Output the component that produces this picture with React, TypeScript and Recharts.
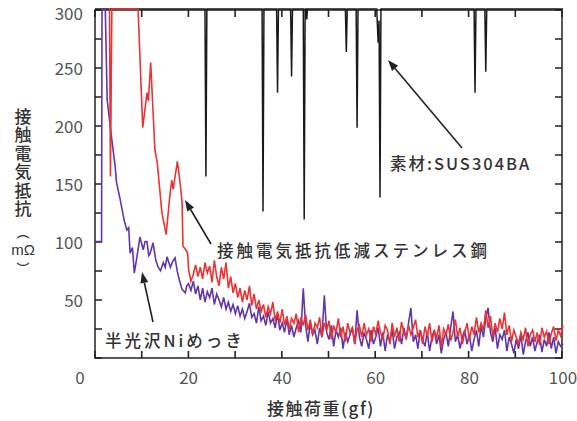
import { LineChart, Line, XAxis, YAxis } from "recharts";

const FONT = '"Noto Sans CJK JP", "Noto Sans", sans-serif';

// 素材 SUS304BA: saturated at 300 except for short dips
const susLoad = [0, 23.5, 23.7, 23.9, 35.7, 35.9, 36.1, 38.8, 39.0, 39.2, 41.8, 42.0, 42.2, 44.5, 44.7, 44.9, 45.1, 45.25, 45.4, 53.5, 53.7, 53.9, 55.8, 56.0, 56.2, 60.2, 60.5, 60.7, 60.9, 61.1, 81.0, 81.2, 81.4, 83.3, 83.5, 83.7, 100];
const susValue = [300, 300, 156, 300, 300, 126, 300, 300, 228, 300, 300, 242, 300, 300, 119, 300, 300, 291, 300, 300, 263, 300, 300, 198, 300, 300, 271, 290, 138, 300, 300, 228, 300, 300, 246, 300, 300];

// 接触電気抵抗低減ステンレス鋼, low-load part
const redEarlyLoad = [3.0, 3.1, 3.3, 3.6, 9.2, 10.2, 11.1, 11.4, 11.9, 12.8, 13.3, 14.3, 15.2, 16.0, 16.4, 16.7, 17.6, 18.2, 18.6, 18.8, 19.4, 19.8];
const redEarlyValue = [300, 300, 156, 300, 300, 198, 228, 221, 254, 179, 168, 125, 106, 140, 153, 145, 169, 150, 134, 96, 93, 90];

// 半光沢Niめっき, low-load part
const niEarlyLoad = [0, 1.4, 1.5, 2.2, 2.6, 3.4, 4.3, 4.6, 5.4, 6.2, 6.8, 7.2, 7.5, 8.0, 8.4, 9.0, 9.6, 10.3, 10.7, 11.1, 11.5, 11.8, 12.4, 13.0, 13.5, 14.0, 14.6, 15.0, 15.4, 16.1, 16.6, 17.1, 17.6, 18.1, 18.6, 19.3, 19.6];
const niEarlyValue = [100, 100, 300, 300, 222, 194, 165, 151, 136, 119, 110, 112, 90, 95, 73, 88, 104, 93, 100, 100, 88, 90, 99, 84, 78, 75, 82, 78, 87, 78, 83, 86, 74, 66, 59, 56, 62];

// 20–100 gf, every 0.5 gf
const sweepLoad = Array.from({ length: 161 }, (_, i) => 20 + i * 0.5);
const redSweep = [
  76, 66, 72, 80, 70, 78, 68, 82, 73, 79,
  65, 84, 70, 62, 78, 68, 82, 60, 70, 56,
  64, 52, 60, 48, 58, 50, 62, 45, 55, 42,
  50, 40, 46, 35, 44, 38, 48, 32, 40, 30,
  42, 28, 36, 25, 34, 30, 38, 22, 35, 28,
  37, 24, 33, 20, 30, 26, 35, 18, 30, 24,
  32, 16, 28, 22, 34, 18, 27, 14, 30, 22,
  26, 12, 24, 28, 18, 30, 20, 25, 14, 27,
  20, 32, 22, 16, 28, 24, 12, 30, 18, 26,
  14, 31, 22, 17, 28, 20, 26, 33, 18, 24,
  12, 27, 19, 30, 14, 23, 18, 28, 10, 25,
  20, 29, 15, 22, 33, 18, 26, 12, 22, 30,
  16, 27, 20, 35, 22, 30, 24, 41, 26, 36,
  18, 30, 22, 34, 25, 39, 20, 28, 14, 24,
  18, 12, 22, 16, 26, 10, 20, 24, 14, 22,
  11, 26, 18, 23, 12, 21, 27, 15, 24, 19,
  28,
];
const niSweep = [
  64, 58, 66, 55, 62, 50, 60, 48, 57, 52,
  60, 46, 55, 50, 44, 52, 42, 48, 40, 46,
  38, 45, 36, 42, 34, 40, 47, 35, 38, 30,
  44, 32, 36, 28, 40, 30, 34, 26, 38, 24,
  30, 22, 34, 20, 28, 18, 26, 32, 22, 60,
  28, 14, 30, 20, 24, 12, 26, 18, 54, 22,
  16, 28, 10, 24, 18, 26, 8, 22, 14, 20,
  26, 12, 41, 18, 10, 22, 16, 8, 24, 12,
  18, 26, 10, 22, 6, 20, 14, 24, 8, 18,
  22, 12, 26, 16, 30, 43, 14, 20, 8, 24,
  16, 10, 22, 6, 18, 24, 12, 20, 4, 16,
  22, 10, 26, 40, 14, 20, 8, 18, 24, 12,
  20, 6, 16, 24, 10, 28, 18, 34, 43, 22,
  14, 26, 8, 20, 16, 24, 6, 18, 12, 4,
  16, 8, 20, 3, 14, 22, 10, 18, 6, 14,
  20, 5, 16, 10, 22, 8, 18, 4, 14, 10,
  12,
];

const xTicks = [0, 10, 20, 30, 40, 50, 60, 70, 80, 90, 100];
const yTicks = [0, 25, 50, 75, 100, 125, 150, 175, 200, 225, 250, 275, 300];

const toPoints = (xs: number[], ys: number[]) => xs.map((x, i) => ({ load: x, r: ys[i] }));

const susData = toPoints(susLoad, susValue);
const redData = [...toPoints(redEarlyLoad, redEarlyValue), ...toPoints(sweepLoad, redSweep)];
const niData = [...toPoints(niEarlyLoad, niEarlyValue), ...toPoints(sweepLoad, niSweep)];

// plot box (matches the chart margins below)
const W = 577;
const H = 421;
const M = { top: 9, right: 14, bottom: 62, left: 94 };
const BOX = { left: M.left + 1, right: W - M.right - 1, top: M.top + 1, bottom: H - M.bottom - 1 };
const px = (v: number) => BOX.left + (v / 100) * (BOX.right - BOX.left);
const py = (v: number) => BOX.bottom - (v / 300) * (BOX.bottom - BOX.top);

const AXIS = "#222";
const LABEL = "#555";

function BottomLabel({ x, y, payload }: any) {
  const v = payload.value;
  if (v % 20 !== 0) return <g />;
  return (
    <text x={v === 0 ? x - 15 : x} y={y + 18} textAnchor="middle" dominantBaseline="central"
      fill={LABEL} fontSize={17} fontFamily={FONT}>{v}</text>
  );
}

function LeftLabel({ x, y, payload }: any) {
  const v = payload.value;
  if (v % 50 !== 0 || v === 0) return <g />;
  return (
    <text x={x - 12} y={v === 300 ? y + 3 : y} textAnchor="end" dominantBaseline="central"
      fill={LABEL} fontSize={17} fontFamily={FONT}>{v}</text>
  );
}

function Arrow({ x1, y1, x2, y2 }: { x1: number; y1: number; x2: number; y2: number }) {
  const a = Math.atan2(y2 - y1, x2 - x1);
  const len = 11;
  const w = 4;
  const bx = x2 - len * Math.cos(a);
  const by = y2 - len * Math.sin(a);
  const ox = -Math.sin(a) * w;
  const oy = Math.cos(a) * w;
  return (
    <g>
      <line x1={x1} y1={y1} x2={bx} y2={by} stroke="#222" strokeWidth={1.6} />
      <polygon points={`${x2},${y2} ${bx + ox},${by + oy} ${bx - ox},${by - oy}`} fill="#222" />
    </g>
  );
}

const layer = { position: "absolute", left: 0, top: 0, pointerEvents: "none" } as const;

// inward tick marks on all four sides, as one path
const tickPath = [
  ...xTicks.map((v) => `M${px(v)},${BOX.bottom}V${BOX.bottom - 7}M${px(v)},${BOX.top}V${BOX.top + 7}`),
  ...yTicks.map((v) => `M${BOX.left},${py(v)}H${BOX.left + 7}M${BOX.right},${py(v)}H${BOX.right - 7}`),
].join("");

// frame + ticks under the series, so saturated traces run over them
function Frame() {
  return (
    <svg width={W} height={H} style={layer}>
      <rect x={BOX.left} y={BOX.top} width={BOX.right - BOX.left} height={BOX.bottom - BOX.top}
        fill="none" stroke={AXIS} strokeWidth={1.5} />
      <path d={tickPath} fill="none" stroke={AXIS} strokeWidth={1.6} />
    </svg>
  );
}

function Overlay() {
  const txt = { fill: "#333", fontFamily: FONT, fontSize: 16.5, fontWeight: 500 } as const;
  return (
    <svg width={W} height={H} style={layer}>
      <Arrow x1={462} y1={148} x2={388} y2={60} />
      <Arrow x1={211} y1={244} x2={185} y2={200} />
      <Arrow x1={153} y1={322} x2={142} y2={272} />
      <text x={390} y={163} dominantBaseline="central" letterSpacing={2} {...txt}>素材:SUS304BA</text>
      <text x={217} y={250} dominantBaseline="central" letterSpacing={3} {...txt}>接触電気抵抗低減ステンレス鋼</text>
      <text x={105} y={340} dominantBaseline="central" letterSpacing={3} {...txt}>半光沢Niめっき</text>
      {/* y-axis title, written vertically */}
      <text x={23} y={108} writingMode="tb" letterSpacing={1.5} {...txt} fontSize={17}>接触電気抵抗</text>
      <text x={23} y={231} textAnchor="middle" dominantBaseline="central" {...txt} fontSize={13}>︵</text>
      <text x={23} y={249} textAnchor="middle" dominantBaseline="central" {...txt}
        fontFamily='"Liberation Sans", sans-serif' fontSize={15}>mΩ</text>
      <text x={23} y={267} textAnchor="middle" dominantBaseline="central" {...txt} fontSize={13}>︶</text>
      <text x={267} y={407} dominantBaseline="central" letterSpacing={1.5} {...txt} fontSize={17}>接触荷重(gf)</text>
    </svg>
  );
}

export default function App() {
  return (
    <div style={{ position: "absolute", left: 0, top: 0, width: W, height: H, background: "#fff" }}>
      <Frame />
      <LineChart width={W} height={H} margin={M}>
        <XAxis xAxisId="x" dataKey="load" type="number" domain={[0, 100]} ticks={xTicks} interval={0}
          height={1} tickSize={0} tickMargin={0} tickLine={false} axisLine={false} tick={<BottomLabel />} />
        <YAxis yAxisId="y" type="number" domain={[0, 300]} ticks={yTicks} interval={0}
          width={1} tickSize={0} tickMargin={0} tickLine={false} axisLine={false} tick={<LeftLabel />} />
        <Line xAxisId="x" yAxisId="y" data={susData} dataKey="r" type="linear" stroke="#1a1a1a"
          strokeWidth={1.5} dot={false} isAnimationActive={false} />
        <Line xAxisId="x" yAxisId="y" data={niData} dataKey="r" type="linear" stroke="#6236a8"
          strokeWidth={1.6} dot={false} isAnimationActive={false} />
        <Line xAxisId="x" yAxisId="y" data={redData} dataKey="r" type="linear" stroke="#ec3232"
          strokeWidth={1.6} dot={false} isAnimationActive={false} />
      </LineChart>
      <Overlay />
    </div>
  );
}
